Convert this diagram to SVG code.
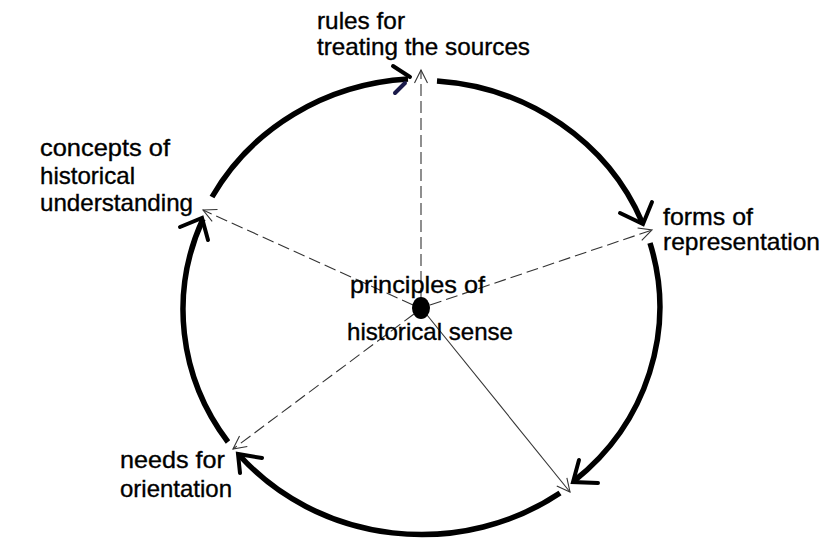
<svg xmlns="http://www.w3.org/2000/svg" width="823" height="554" viewBox="0 0 823 554">
<style>
.lbl{font-family:"Liberation Sans",Arial,sans-serif;font-size:24px;fill:#000;stroke:#000;stroke-width:0.35}
.arc{fill:none;stroke:#000;stroke-width:5.5}
.head{fill:none;stroke:#000;stroke-width:4;stroke-linecap:round}
.thin{fill:none;stroke:#333;stroke-width:1.1}
.dash{stroke-dasharray:12 5}
</style>
<defs>
<marker id="open" viewBox="-15 -8 17 16" refX="0" refY="0" markerWidth="17" markerHeight="16" markerUnits="userSpaceOnUse" orient="auto">
<path d="M-13,-6.5 L0,0 L-13,6.5" fill="none" stroke="#333" stroke-width="1.1"/>
</marker>
</defs>
<rect width="823" height="554" fill="#fff"/>
<g id="cycle">
<path class="arc" d="M212,197 A240,227 0 0 1 408,79"/>
<path class="arc" d="M437,81 A240,227 0 0 1 642,222"/>
<path class="arc" d="M650,243 A240,227 0 0 1 574,481"/>
<path class="arc" d="M560,493 A240,227 0 0 1 240,456"/>
<path class="arc" d="M228,442 A240,227 0 0 1 203,219"/>
<path class="head" d="M393,66 L410,77"/>
<path d="M395,93 L405,83" fill="none" stroke="#1a1a4a" stroke-width="4" stroke-linecap="round"/>
<path class="head" d="M620,213 L643,224 L652,202"/>
<path class="head" d="M579,460 L573,482 L598,483"/>
<path class="head" d="M262,458 L238,454 L240,473"/>
<path class="head" d="M180,227 L202,218 L208,240"/>
</g>
<g id="connectors">
<path class="thin dash" d="M421,300 L421,70" marker-end="url(#open)"/>
<path class="thin dash" d="M413,305 L203,210" marker-end="url(#open)"/>
<path class="thin dash" d="M430,305 L652,230" marker-end="url(#open)"/>
<path class="thin dash" d="M414,314 L233,449" marker-end="url(#open)"/>
<path class="thin" d="M427,315 L570,492" marker-end="url(#open)"/>
</g>
<g id="center">
<ellipse cx="421" cy="308" rx="9" ry="11" fill="#000"/>
<text class="lbl" x="350" y="293" textLength="135" lengthAdjust="spacingAndGlyphs">principles of</text>
<text class="lbl" x="347" y="340" textLength="166" lengthAdjust="spacingAndGlyphs">historical sense</text>
</g>
<g id="node-rules">
<text class="lbl" x="317" y="29" textLength="88" lengthAdjust="spacingAndGlyphs">rules for</text>
<text class="lbl" x="317" y="55" textLength="213" lengthAdjust="spacingAndGlyphs">treating the sources</text>
</g>
<g id="node-concepts">
<text class="lbl" x="40" y="156" textLength="130" lengthAdjust="spacingAndGlyphs">concepts of</text>
<text class="lbl" x="40" y="184" textLength="95" lengthAdjust="spacingAndGlyphs">historical</text>
<text class="lbl" x="40" y="211" textLength="153" lengthAdjust="spacingAndGlyphs">understanding</text>
</g>
<g id="node-forms">
<text class="lbl" x="663" y="225" textLength="90" lengthAdjust="spacingAndGlyphs">forms of</text>
<text class="lbl" x="663" y="250" textLength="157" lengthAdjust="spacingAndGlyphs">representation</text>
</g>
<g id="node-needs">
<text class="lbl" x="120" y="468" textLength="105" lengthAdjust="spacingAndGlyphs">needs for</text>
<text class="lbl" x="120" y="497" textLength="112" lengthAdjust="spacingAndGlyphs">orientation</text>
</g>
</svg>
